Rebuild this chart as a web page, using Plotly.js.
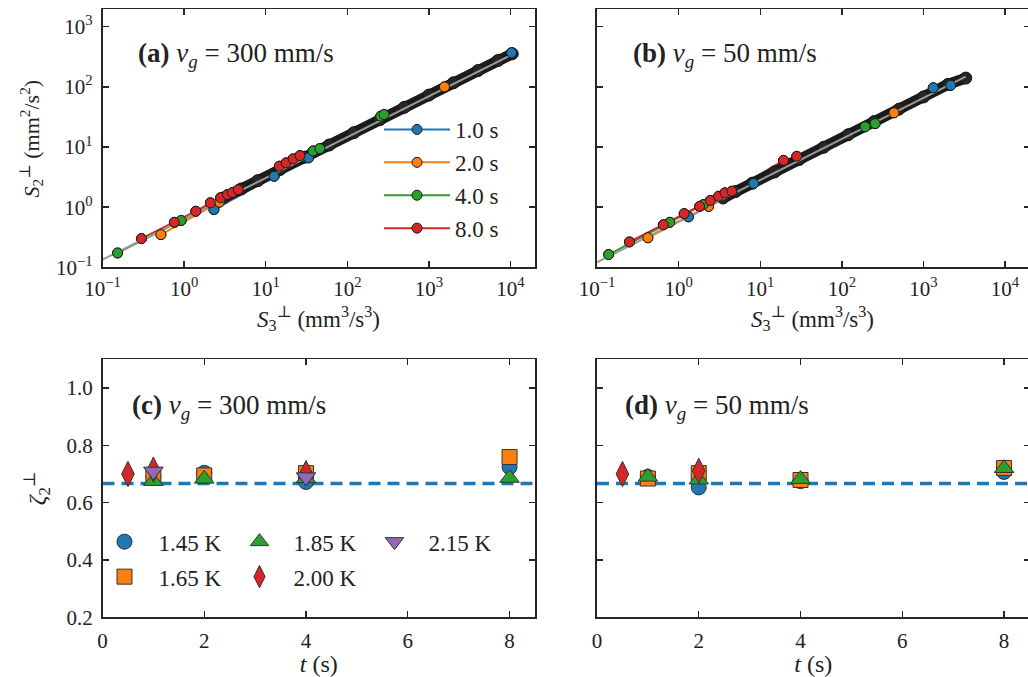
<!DOCTYPE html>
<html><head><meta charset="utf-8">
<script src="https://cdn.plot.ly/plotly-3.0.1.min.js"></script>
<style>html,body{margin:0;padding:0;overflow:hidden;background:#fff}#chart{width:1034px;height:677px}</style>
</head><body><div id="chart"></div>
<script>
// ================= DATA =================
const timeLabels = ['1.0 s', '2.0 s', '4.0 s', '8.0 s'];
const timeColors = ['#1f77b4', '#ff7f0e', '#2ca02c', '#d62728'];

// panel (a) v_g = 300 mm/s : S3 (x) and S2 (y) of the visible coloured points
const a_S3_1s = [2.32, 12.7, 33.5, 10300];
const a_S2_1s = [0.91, 3.27, 6.6, 369];
const a_S3_2s = [0.52, 2.7, 1550];
const a_S2_2s = [0.35, 1.21, 100];
const a_S3_4s = [0.153, 0.92, 38, 46, 257, 282];
const a_S2_4s = [0.173, 0.6, 8.6, 9.4, 32.6, 34.7];
const a_S3_8s = [0.30, 0.76, 1.39, 2.1, 2.8, 3.4, 3.9, 4.6, 14.7, 17.8, 21.7, 26.3];
const a_S2_8s = [0.30, 0.56, 0.855, 1.18, 1.43, 1.62, 1.75, 1.95, 4.8, 5.45, 6.35, 7.2];
// dense overlapping data band (a)
const a_band_S3 = [3, 5, 8, 15, 30, 60, 120, 250, 500, 1000, 2000, 4000, 7000, 10500];
const a_band_S2 = [1.42, 2.0, 2.76, 4.23, 6.77, 10.8, 17.3, 28.5, 45.7, 73, 117, 187, 274, 355];
// power-law fit (a)
const a_fit_S3 = [0.1, 10700];
const a_fit_S2 = [0.134, 350];

// panel (b) v_g = 50 mm/s
const b_S3_1s = [1.32, 8.3, 1320, 2160];
const b_S2_1s = [0.69, 2.47, 96.6, 106];
const b_S3_2s = [0.42, 2.33, 436];
const b_S2_2s = [0.31, 1.03, 37];
const b_S3_4s = [0.139, 0.78, 2.0, 193, 256];
const b_S2_4s = [0.163, 0.56, 1.1, 21.7, 24.5];
const b_S3_8s = [0.25, 0.65, 1.17, 1.81, 2.44, 3.09, 3.7, 4.5, 19.3, 28];
const b_S2_8s = [0.264, 0.51, 0.78, 1.03, 1.29, 1.52, 1.73, 1.84, 6.0, 7.0];
const b_band_S3 = [3.5, 5, 8, 15, 30, 60, 120, 250, 500, 1000, 2000, 3300];
const b_band_S2 = [1.42, 1.82, 2.5, 3.85, 6.2, 9.9, 16, 26.5, 42.5, 68, 110, 140];
const b_fit_S3 = [0.1, 3300];
const b_fit_S2 = [0.121, 148];

// panels (c),(d): scaling exponent zeta_2 vs time for each temperature
const tempLabels = ['1.45 K', '1.65 K', '1.85 K', '2.00 K', '2.15 K'];
const tempColors = ['#1f77b4', '#ff7f0e', '#2ca02c', '#d62728', '#9467bd'];
const tempSymbols = ['circle', 'square', 'triangle-up', 'diamond-tall', 'triangle-down'];
const tempSizes = [15, 15, 17, 18, 17];

const c_t_145 = [1, 2, 4, 8];   const c_z_145 = [0.69, 0.704, 0.672, 0.724];
const c_t_165 = [1, 2, 4, 8];   const c_z_165 = [0.695, 0.695, 0.703, 0.759];
const c_t_185 = [1, 2, 4, 8];   const c_z_185 = [0.675, 0.683, 0.685, 0.686];
const c_t_200 = [0.5, 1, 4];    const c_z_200 = [0.70, 0.715, 0.703];
const c_t_215 = [1, 4];         const c_z_215 = [0.709, 0.689];

const d_t_145 = [1, 2, 4, 8];   const d_z_145 = [0.69, 0.653, 0.675, 0.707];
const d_t_165 = [1, 2, 4, 8];   const d_z_165 = [0.684, 0.703, 0.679, 0.721];
const d_t_185 = [1, 2, 4, 8];   const d_z_185 = [0.69, 0.68, 0.682, 0.72];
const d_t_200 = [0.5, 2];       const d_z_200 = [0.70, 0.711];

const zetaK41 = 2 / 3;

// tick labels
const logXTickVals = [0.1, 1, 10, 100, 1000, 10000];
const logXTickText = ['10<sup>\u22121</sup>', '10<sup>0</sup>', '10<sup>1</sup>', '10<sup>2</sup>', '10<sup>3</sup>', '10<sup>4</sup>'];
const logYTickVals = [0.1, 1, 10, 100, 1000];
const logYTickText = ['10<sup>\u22121</sup>', '10<sup>0</sup>', '10<sup>1</sup>', '10<sup>2</sup>', '10<sup>3</sup>'];
const zetaTickVals = [0.2, 0.4, 0.6, 0.8, 1.0];
const zetaTickText = ['0.2', '0.4', '0.6', '0.8', '1.0'];
const tTickVals = [0, 2, 4, 6, 8];

// ================= LAYOUT HELPERS =================
const W = 1034, H = 677;
const colL = [102.5 / W, 535 / W];
const colR = [597 / W, 1029.5 / W];
const rowT = [1 - 267.3 / H, 1 - 9.3 / H];
const rowB = [1 - 617.3 / H, 1 - 359.3 / H];
const FONT = 'Liberation Serif, DejaVu Serif, serif';
const INK = '#222222';
const EDGE = '#1a1a1a';

const traces = [];
const aSets = [[a_S3_1s, a_S2_1s], [a_S3_2s, a_S2_2s], [a_S3_4s, a_S2_4s], [a_S3_8s, a_S2_8s]];
const bSets = [[b_S3_1s, b_S2_1s], [b_S3_2s, b_S2_2s], [b_S3_4s, b_S2_4s], [b_S3_8s, b_S2_8s]];

function topPanel(sets, band, fit, xa, ya, withLegend) {
  sets.forEach((s, i) => traces.push({
    type: 'scatter', mode: 'lines+markers', x: s[0], y: s[1], xaxis: xa, yaxis: ya,
    name: timeLabels[i], showlegend: withLegend, legend: 'legend', legendgroup: 'g' + i,
    line: {color: timeColors[i], width: 2},
    marker: {color: timeColors[i], size: 10, line: {color: EDGE, width: 1}}
  }));
  traces.push({type: 'scatter', mode: 'lines+markers', x: band[0], y: band[1], xaxis: xa, yaxis: ya,
    showlegend: false, hoverinfo: 'skip',
    line: {color: '#1b1b1b', width: 11}, marker: {color: '#262626', size: 12, line: {color: '#111', width: 1}}});
  traces.push({type: 'scatter', mode: 'lines', x: fit[0], y: fit[1], xaxis: xa, yaxis: ya,
    showlegend: false, line: {color: '#9a9a9a', width: 2}});
  sets.forEach((s, i) => traces.push({
    type: 'scatter', mode: 'markers', x: s[0], y: s[1], xaxis: xa, yaxis: ya, showlegend: false,
    marker: {color: timeColors[i], size: 10, line: {color: EDGE, width: 1}}
  }));
}
topPanel(aSets, [a_band_S3, a_band_S2], [a_fit_S3, a_fit_S2], 'x', 'y', true);
topPanel(bSets, [b_band_S3, b_band_S2], [b_fit_S3, b_fit_S2], 'x2', 'y2', false);

const cSets = [[c_t_145, c_z_145], [c_t_165, c_z_165], [c_t_185, c_z_185], [c_t_200, c_z_200], [c_t_215, c_z_215]];
const dSets = [[d_t_145, d_z_145], [d_t_165, d_z_165], [d_t_185, d_z_185], [d_t_200, d_z_200]];
const legendRow = ['legend2', 'legend3', 'legend2', 'legend3', 'legend2'];
cSets.forEach((s, i) => traces.push({
  type: 'scatter', mode: 'markers', x: s[0], y: s[1], xaxis: 'x3', yaxis: 'y3',
  name: tempLabels[i], legend: legendRow[i], showlegend: true,
  marker: {symbol: tempSymbols[i], color: tempColors[i], size: tempSizes[i], line: {color: '#333', width: 1}}
}));
dSets.forEach((s, i) => traces.push({
  type: 'scatter', mode: 'markers', x: s[0], y: s[1], xaxis: 'x4', yaxis: 'y4',
  name: tempLabels[i], showlegend: false,
  marker: {symbol: tempSymbols[i], color: tempColors[i], size: tempSizes[i], line: {color: '#333', width: 1}}
}));

const axBase = {showline: true, mirror: 'ticks', linecolor: '#262626', linewidth: 1.6,
  ticks: 'inside', ticklen: 6, tickwidth: 1.4, tickcolor: '#262626',
  showgrid: false, zeroline: false, tickfont: {family: FONT, size: 21, color: INK}, ticklabelstandoff: 4};

const s2Title = '<i>S</i><sub>2</sub><sup>\u22a5</sup> (mm<sup>2</sup>/s<sup>2</sup>)';
const s3Title = '<i>S</i><sub>3</sub><sup>\u22a5</sup> (mm<sup>3</sup>/s<sup>3</sup>)';
const zTitle = '<i>\u03b6</i><sub>2</sub><sup>\u22a5</sup>';
const tTitle = '<i>t</i> (s)';
const titleFont = {family: FONT, size: 24, color: INK};
const xTitleFont = {family: FONT, size: 23, color: INK};
const yTitleFont = {family: FONT, size: 22, color: INK};

const logX = Object.assign({}, axBase, {type: 'log', range: [-1, 4.3], tickvals: logXTickVals, ticktext: logXTickText, ticklabelstandoff: 2});
const logY = Object.assign({}, axBase, {type: 'log', range: [-1, 3.29], tickvals: logYTickVals, ticktext: logYTickText});
const linX = Object.assign({}, axBase, {range: [0, 8.5], tickvals: tTickVals});
const linY = Object.assign({}, axBase, {range: [0.2, 1.1], tickvals: zetaTickVals, ticktext: zetaTickText});

const annFont = {family: FONT, size: 27, color: INK};
const legFont = {family: FONT, size: 23, color: INK};
const layout = {
  width: W, height: H, margin: {l: 0, r: 0, t: 0, b: 0},
  paper_bgcolor: '#fff', plot_bgcolor: '#fff',
  font: {family: FONT, color: INK, size: 21},
  xaxis: Object.assign({}, logX, {domain: colL, anchor: 'y'}),
  yaxis: Object.assign({}, logY, {domain: rowT, anchor: 'x'}),
  xaxis2: Object.assign({}, logX, {domain: colR, anchor: 'y2'}),
  yaxis2: Object.assign({}, logY, {domain: rowT, anchor: 'x2', showticklabels: false}),
  xaxis3: Object.assign({}, linX, {domain: colL, anchor: 'y3', title: {text: tTitle, font: titleFont, standoff: 4}}),
  yaxis3: Object.assign({}, linY, {domain: rowB, anchor: 'x3', title: {text: zTitle, font: titleFont, standoff: 14}}),
  xaxis4: Object.assign({}, linX, {domain: colR, anchor: 'y4', title: {text: tTitle, font: titleFont, standoff: 4}}),
  yaxis4: Object.assign({}, linY, {domain: rowB, anchor: 'x4', showticklabels: false}),
  showlegend: true,
  legend: {x: 379 / W, y: 1 - 108 / H, xanchor: 'left', yanchor: 'top', bgcolor: 'rgba(0,0,0,0)',
    font: legFont, itemwidth: 66, traceorder: 'grouped', tracegroupgap: 0},
  legend2: {orientation: 'h', x: 90.5 / W, y: 1 - 541.7 / H, xanchor: 'left', yanchor: 'middle',
    bgcolor: 'rgba(0,0,0,0)', font: legFont, itemwidth: 58, entrywidth: 62},
  legend3: {orientation: 'h', x: 90.5 / W, y: 1 - 576.7 / H, xanchor: 'left', yanchor: 'middle',
    bgcolor: 'rgba(0,0,0,0)', font: legFont, itemwidth: 58, entrywidth: 62},
  shapes: [
    {type: 'line', xref: 'x3 domain', x0: 0, x1: 1, yref: 'y3', y0: zetaK41, y1: zetaK41, layer: 'below',
      line: {color: '#1f77b4', width: 3.5, dash: '12px,7px'}},
    {type: 'line', xref: 'x4 domain', x0: 0, x1: 1, yref: 'y4', y0: zetaK41, y1: zetaK41, layer: 'below',
      line: {color: '#1f77b4', width: 3.5, dash: '12px,7px'}}
  ],
  annotations: [
    {xref: 'paper', yref: 'paper', x: 136 / W, y: 1 - 55 / H, xanchor: 'left', yanchor: 'middle', showarrow: false,
      text: '<b>(a)</b> <i>v<sub>g</sub></i> = 300 mm/s', font: annFont},
    {xref: 'paper', yref: 'paper', x: 631 / W, y: 1 - 55 / H, xanchor: 'left', yanchor: 'middle', showarrow: false,
      text: '<b>(b)</b> <i>v<sub>g</sub></i> = 50 mm/s', font: annFont},
    {xref: 'paper', yref: 'paper', x: 130 / W, y: 1 - 407 / H, xanchor: 'left', yanchor: 'middle', showarrow: false,
      text: '<b>(c)</b> <i>v<sub>g</sub></i> = 300 mm/s', font: annFont},
    {xref: 'paper', yref: 'paper', x: 623 / W, y: 1 - 407 / H, xanchor: 'left', yanchor: 'middle', showarrow: false,
      text: '<b>(d)</b> <i>v<sub>g</sub></i> = 50 mm/s', font: annFont},
    // axis titles of the two upper panels
    {xref: 'paper', yref: 'paper', x: 318.5 / W, y: 1 - 318 / H, xanchor: 'center', yanchor: 'middle', showarrow: false,
      text: s3Title, font: xTitleFont},
    {xref: 'paper', yref: 'paper', x: 812 / W, y: 1 - 318 / H, xanchor: 'center', yanchor: 'middle', showarrow: false,
      text: s3Title, font: xTitleFont},
    {xref: 'paper', yref: 'paper', x: 31 / W, y: 1 - 138.5 / H, xanchor: 'center', yanchor: 'middle', showarrow: false,
      textangle: -90, text: s2Title, font: yTitleFont}
  ]
};

Plotly.newPlot('chart', traces, layout, {displayModeBar: false, staticPlot: true});
</script>
</body></html>
